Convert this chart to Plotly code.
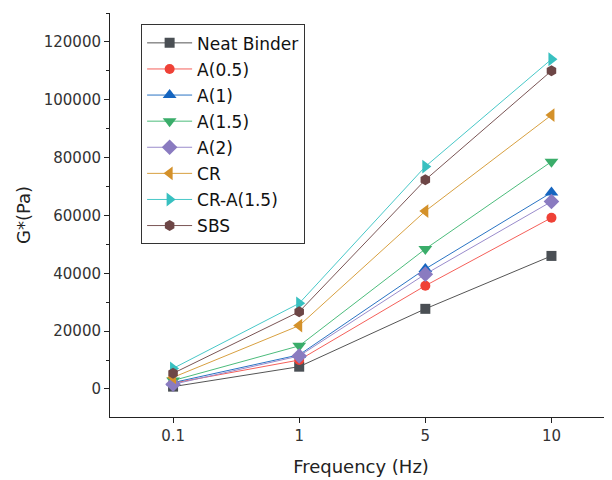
import plotly.graph_objects as go

freq = ["0.1", "1", "5", "10"]
names = ["Neat Binder", "A(0.5)", "A(1)", "A(1.5)", "A(2)", "CR", "CR-A(1.5)", "SBS"]
neat = [800, 7700, 27700, 46000]
a05 = [2000, 10000, 35700, 59200]
a1 = [2200, 11800, 41500, 67900]
a15 = [2900, 14900, 48400, 78600]
a2 = [1600, 11400, 39700, 64800]
cr = [4000, 21900, 61500, 94700]
cra15 = [7100, 29600, 76900, 114000]
sbs = [5400, 26700, 72300, 110000]

series = [neat, a05, a1, a15, a2, cr, cra15, sbs]
line_colors = ["#555555", "#f5605a", "#2a74c4", "#4cbc7c", "#9a8ccc", "#d8a040", "#48c8c8", "#7a5555"]
marker_colors = ["#4a4f54", "#ef4136", "#1565c0", "#3aad6a", "#8a7bc0", "#d4912a", "#38c0c0", "#6d4646"]
symbols = ["square", "circle", "triangle-up", "triangle-down", "diamond", "triangle-left", "triangle-right", "hexagon"]
sizes = [10, 10, 12, 12, 12, 12, 12, 11]

fig = go.Figure()
for i, name in enumerate(names):
    fig.add_trace(go.Scatter(
        x=freq, y=series[i], name=name, mode="lines+markers",
        line=dict(color=line_colors[i], width=1),
        marker=dict(symbol=symbols[i], color=marker_colors[i], size=sizes[i]),
        legendgroup=str(i),
    ))

fig.update_layout(
    width=604, height=472,
    margin=dict(l=102, r=0, t=5, b=63),
    paper_bgcolor="white", plot_bgcolor="white",
    font=dict(family="DejaVu Sans, sans-serif", color="#222222"),
    showlegend=True,
    legend=dict(
        x=0.062, y=0.972, xanchor="left", yanchor="top",
        bordercolor="#333333", borderwidth=1, bgcolor="white",
        font=dict(size=17, color="#111111"),
        itemwidth=45, tracegroupgap=1,
    ),
    xaxis=dict(
        type="category", range=[-0.5, 3.48],
        showline=True, linecolor="#222222", linewidth=1,
        ticks="outside", ticklen=5, tickcolor="#222222",
        tickfont=dict(size=15, color="#333333"),
        showgrid=False, zeroline=False,
        title=dict(text="Frequency (Hz)", font=dict(size=18), standoff=16),
    ),
    yaxis=dict(
        range=[-9700, 130000],
        showline=True, linecolor="#222222", linewidth=1,
        ticks="outside", ticklen=5, tickcolor="#222222",
        tickvals=[0, 20000, 40000, 60000, 80000, 100000, 120000],
        ticktext=["0", "20000", "40000", "60000", "80000", "100000", "120000"],
        tickfont=dict(size=15, color="#333333"),
        minor=dict(ticks="outside", ticklen=3, tickcolor="#222222", dtick=10000, tick0=0),
        showgrid=False, zeroline=False,
        title=dict(text="G*(Pa)", font=dict(size=18), standoff=8),
    ),
)

fig.write_html("out.html")
